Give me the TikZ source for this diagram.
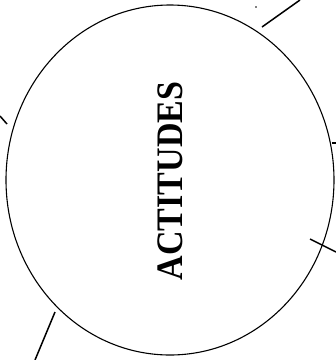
\documentclass[tikz,border=0pt]{standalone}
\usepackage{fontspec}
\setmainfont{Liberation Serif}
\usetikzlibrary{shapes.geometric}
\tikzset{
  blob/.style={ellipse,draw=black,line width=1.1pt,minimum width=328pt,minimum height=350pt,inner sep=0pt}, % big oval
  title/.style={rotate=90,font=\bfseries\fontsize{34}{34}\selectfont,inner sep=0pt},
  stub/.style={draw=black,line width=1.5pt},  % cut-off link
  speck/.style={circle,fill=black,inner sep=0.7pt},
}

\begin{document}
\begin{tikzpicture}[x=1pt,y=-1pt]
  \useasboundingbox (0,0) rectangle (336,360);
  \node[blob] (att) at (170,180) {};
  \node[title,yscale=1.1] (lbl) at (170,181) {ACTITUDES};
  \draw[stub] (262,27) -- (300,0);
  \draw[stub] (0,116) -- (7,124);
  \draw[stub] (332,143) -- (336,143);
  \draw[stub] (310,239) -- (336,252);
  \draw[stub] (55,312) -- (35,360);
  \node[speck] (dot) at (256,7) {};
\end{tikzpicture}
\end{document}
